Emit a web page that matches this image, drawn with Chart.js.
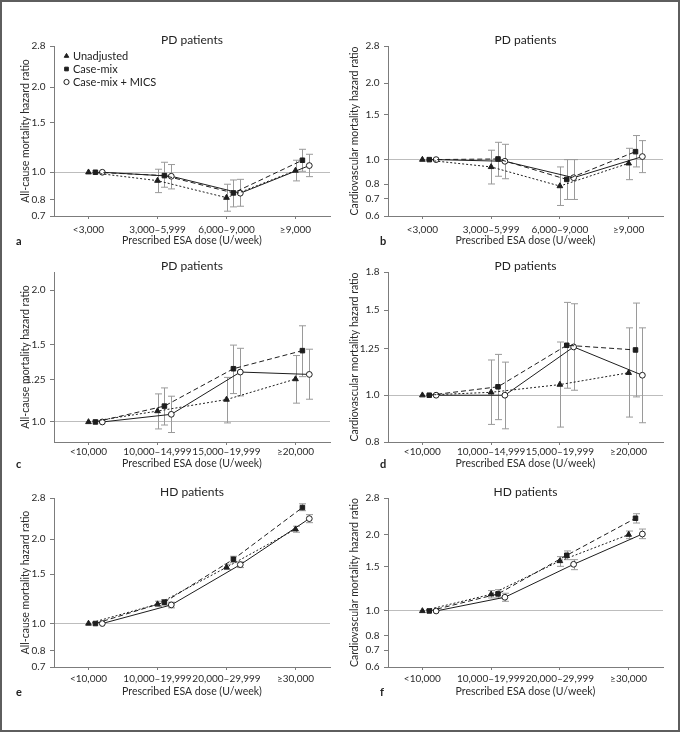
<!DOCTYPE html>
<html>
<head>
<meta charset="utf-8">
<script src="https://cdn.jsdelivr.net/npm/chart.js@4.4.0/dist/chart.umd.min.js"></script>
<style>
  html, body { margin: 0; padding: 0; background: #fff; }
  body { position: relative; width: 680px; height: 732px; overflow: hidden; }
  #frame { position: absolute; left: 0; top: 0; width: 680px; height: 732px; box-sizing: border-box; border: 2px solid #5e5e5e; }
  canvas { position: absolute; }
  .letter { position: absolute; font: bold 11px Lato, sans-serif; color: #222; line-height: 14px; }
</style>
</head>
<body>
<div id="frame"></div>
<script>
// categories
const catsPD1 = ['<3,000', '3,000–5,999', '6,000–9,000', '≥9,000'];
const catsPD2 = ['<10,000', '10,000–14,999', '15,000–19,999', '≥20,000'];
const catsHD = ['<10,000', '10,000–19,999', '20,000–29,999', '≥30,000'];
const seriesNames = ['Unadjusted', 'Case-mix', 'Case-mix + MICS'];

// y tick values
const ticksA = [0.7, 0.8, 1.0, 1.5, 2.0, 2.8];
const ticksB = [0.6, 0.7, 0.8, 1.0, 1.5, 2.0, 2.8];
const ticksC = [1.0, 1.25, 1.5, 2.0];
const ticksD = [0.8, 1.0, 1.25, 1.5, 1.8];

// a: all-cause, PD
const aUnadj = [1, 0.934, 0.813, 1.014], aUnadjLo = [null, 0.847, 0.728, 0.932], aUnadjHi = [null, 1.025, 0.907, 1.103];
const aCase = [1, 0.973, 0.845, 1.103], aCaseLo = [null, 0.885, 0.754, 1.008], aCaseHi = [null, 1.085, 0.939, 1.206];
const aMics = [1, 0.968, 0.843, 1.056], aMicsLo = [null, 0.873, 0.758, 0.965], aMicsHi = [null, 1.065, 0.944, 1.158];
// b: cardiovascular, PD
const bUnadj = [1, 0.936, 0.787, 0.967], bUnadjLo = [null, 0.802, 0.660, 0.834], bUnadjHi = [null, 1.089, 0.936, 1.108];
const bCase = [1, 1.006, 0.836, 1.075], bCaseLo = [null, 0.860, 0.697, 0.936], bCaseHi = [null, 1.170, 1.0, 1.244];
const bMics = [1, 0.985, 0.849, 1.028], bMicsLo = [null, 0.841, 0.697, 0.889], bMicsHi = [null, 1.149, 1.0, 1.188];
// c: all-cause, PD (higher doses)
const cUnadj = [1, 1.059, 1.125, 1.253], cUnadjLo = [null, 0.964, 0.995, 1.104], cUnadjHi = [null, 1.159, 1.264, 1.418];
const cCase = [1, 1.087, 1.323, 1.455], cCaseLo = [null, 0.984, 1.161, 1.269], cCaseHi = [null, 1.196, 1.498, 1.658];
const cMics = [1, 1.041, 1.300, 1.284], cMicsLo = [null, 0.946, 1.147, 1.127], cMicsHi = [null, 1.145, 1.473, 1.466];
// d: cardiovascular, PD (higher doses)
const dUnadj = [1, 1.014, 1.052, 1.113], dUnadjLo = [null, 0.870, 0.859, 0.901], dUnadjHi = [null, 1.183, 1.289, 1.379];
const dCase = [1, 1.041, 1.269, 1.241], dCaseLo = [null, 0.890, 1.034, 0.992], dCaseHi = [null, 1.215, 1.557, 1.552];
const dMics = [1, 1.0, 1.259, 1.100], dMicsLo = [null, 0.852, 1.024, 0.877], dMicsHi = [null, 1.171, 1.547, 1.379];
// e: all-cause, HD
const eUnadj = [1, 1.172, 1.586, 2.167], eUnadjLo = [null, 1.149, 1.557, 2.114], eUnadjHi = [null, 1.201, 1.626, 2.222];
const eCase = [1, 1.191, 1.694, 2.589], eCaseLo = [null, 1.162, 1.648, 2.523], eCaseHi = [null, 1.217, 1.736, 2.670];
const eMics = [1, 1.165, 1.621, 2.364], eMicsLo = [null, 1.137, 1.582, 2.287], eMicsHi = [null, 1.191, 1.658, 2.443];
// f: cardiovascular, HD
const fUnadj = [1, 1.164, 1.577, 2.005], fUnadjLo = [null, 1.126, 1.502, 1.933], fUnadjHi = [null, 1.204, 1.641, 2.072];
const fCase = [1, 1.168, 1.661, 2.328], fCaseLo = [null, 1.126, 1.596, 2.229], fCaseHi = [null, 1.214, 1.728, 2.426];
const fMics = [1, 1.133, 1.530, 2.016], fMicsLo = [null, 1.092, 1.457, 1.933], fMicsHi = [null, 1.175, 1.596, 2.110];

const ALL = 'All-cause mortality hazard ratio';
const CV = 'Cardiovascular mortality hazard ratio';

const panels = [
  { letter: 'a', row: 0, col: 0, title: 'PD patients', yTitle: ALL, cats: catsPD1, ticks: ticksA, min: 0.7, max: 2.8, legend: true,
    series: [[aUnadj, aUnadjLo, aUnadjHi], [aCase, aCaseLo, aCaseHi], [aMics, aMicsLo, aMicsHi]] },
  { letter: 'b', row: 0, col: 1, title: 'PD patients', yTitle: CV, cats: catsPD1, ticks: ticksB, min: 0.6, max: 2.8,
    series: [[bUnadj, bUnadjLo, bUnadjHi], [bCase, bCaseLo, bCaseHi], [bMics, bMicsLo, bMicsHi]] },
  { letter: 'c', row: 1, col: 0, title: 'PD patients', yTitle: ALL, cats: catsPD2, ticks: ticksC, min: 0.9, max: 2.2,
    series: [[cUnadj, cUnadjLo, cUnadjHi], [cCase, cCaseLo, cCaseHi], [cMics, cMicsLo, cMicsHi]] },
  { letter: 'd', row: 1, col: 1, title: 'PD patients', yTitle: 'Cardiovasclular mortality hazard ratio'.replace('clul', 'cul'), cats: catsPD2, ticks: ticksD, min: 0.8, max: 1.8,
    series: [[dUnadj, dUnadjLo, dUnadjHi], [dCase, dCaseLo, dCaseHi], [dMics, dMicsLo, dMicsHi]] },
  { letter: 'e', row: 2, col: 0, title: 'HD patients', yTitle: ALL, cats: catsHD, ticks: ticksA, min: 0.7, max: 2.8,
    series: [[eUnadj, eUnadjLo, eUnadjHi], [eCase, eCaseLo, eCaseHi], [eMics, eMicsLo, eMicsHi]] },
  { letter: 'f', row: 2, col: 1, title: 'HD patients', yTitle: CV, cats: catsHD, ticks: ticksB, min: 0.6, max: 2.8,
    series: [[fUnadj, fUnadjLo, fUnadjHi], [fCase, fCaseLo, fCaseHi], [fMics, fMicsLo, fMicsHi]] }
];

// layout of the grid of panels
const rows = [
  { top: 28, height: 219, xAxisH: 31, tickPad: 4.3 },
  { top: 254, height: 216, xAxisH: 28, tickPad: 1 },
  { top: 480, height: 218, xAxisH: 31, tickPad: 3 }
];
const cols = [
  { left: 0, yAxisW: 54, yTitlePad: 19.7, padRight: 10, letterX: 16 },
  { left: 340, yAxisW: 48, yTitlePad: 8.7, padRight: 17, letterX: 380 }
];

const ink = '#1e1e1e';
const axisColor = '#7c7c7c';
const refColor = '#bdbdbd';
const errColor = '#9a9a9a';
const xShift = [0, 0.1, 0.2];
const styles = [
  { pointStyle: 'triangle', radius: 3.3, fill: ink, dash: [2, 2] },
  { pointStyle: 'rect', radius: 3.2, fill: ink, dash: [5, 3] },
  { pointStyle: 'circle', radius: 2.9, fill: '#fff', dash: [] }
];

Chart.defaults.font.family = 'Lato, sans-serif';
Chart.defaults.color = '#2a2a2a';

// vertical confidence-interval whiskers, placed through the chart scales
const errorBars = {
  id: 'errorBars',
  beforeDatasetsDraw(chart) {
    const { ctx, scales: { x, y } } = chart;
    ctx.save();
    ctx.strokeStyle = errColor;
    ctx.lineWidth = 1;
    chart.data.datasets.forEach(ds => {
      ds.data.forEach((p, i) => {
        if (ds.lo[i] == null) return;
        const px = Math.round(x.getPixelForValue(p.x)) + 0.5;
        const y1 = y.getPixelForValue(ds.lo[i]);
        const y2 = y.getPixelForValue(ds.hi[i]);
        ctx.beginPath();
        ctx.moveTo(px, y1); ctx.lineTo(px, y2);
        ctx.moveTo(px - 3.5, y1); ctx.lineTo(px + 3.5, y1);
        ctx.moveTo(px - 3.5, y2); ctx.lineTo(px + 3.5, y2);
        ctx.stroke();
      });
    });
    ctx.restore();
  }
};

// small legend inside the plot area, top-left (only panel a)
const insideLegend = {
  id: 'insideLegend',
  afterDatasetsDraw(chart, args, opts) {
    if (!opts.show) return;
    const { ctx, chartArea } = chart;
    ctx.save();
    ctx.font = '11px Lato, sans-serif';
    ctx.textBaseline = 'middle';
    chart.data.datasets.forEach((ds, k) => {
      const y = chartArea.top + 10 + k * 13;
      const x = chartArea.left + 12.5;
      ctx.fillStyle = ds.pointBackgroundColor;
      ctx.strokeStyle = ds.pointBorderColor;
      ctx.lineWidth = 1;
      ctx.setLineDash([]);
      Chart.helpers.drawPoint(ctx, { pointStyle: ds.pointStyle, radius: 2.6, rotation: 0, borderWidth: 1 }, x, y);
      ctx.fillStyle = '#222';
      ctx.fillText(ds.label, x + 6.5, y);
    });
    ctx.restore();
  }
};

const fmt = v => (Math.round(v * 10) === v * 10 ? v.toFixed(1) : String(v));

panels.forEach(p => {
  const r = rows[p.row], c = cols[p.col];
  const canvas = document.createElement('canvas');
  canvas.width = 340;
  canvas.height = r.height;
  canvas.style.left = c.left + 'px';
  canvas.style.top = r.top + 'px';
  document.body.appendChild(canvas);

  const letter = document.createElement('span');
  letter.className = 'letter';
  letter.textContent = p.letter;
  letter.style.left = c.letterX + 'px';
  letter.style.top = (r.top + r.height - 6.3 - 7) + 'px';
  document.body.appendChild(letter);

  const datasets = p.series.map((s, k) => ({
    label: seriesNames[k],
    data: s[0].map((v, i) => ({ x: i + xShift[k], y: v })),
    lo: s[1],
    hi: s[2],
    borderColor: ink,
    backgroundColor: styles[k].fill,
    borderWidth: 1,
    borderDash: styles[k].dash,
    pointStyle: styles[k].pointStyle,
    pointRadius: styles[k].radius,
    pointBackgroundColor: styles[k].fill,
    pointBorderColor: ink,
    pointBorderWidth: 1,
    tension: 0
  }));

  new Chart(canvas, {
    type: 'line',
    data: { datasets },
    plugins: [errorBars, insideLegend],
    options: {
      responsive: false,
      animation: false,
      layout: { padding: { left: 0, right: c.padRight, top: 0, bottom: 0 } },
      plugins: {
        tooltip: { enabled: false },
        legend: { display: false },
        insideLegend: { show: !!p.legend },
        title: {
          display: true,
          text: p.title,
          fullSize: false,
          color: '#222',
          font: { size: 12, lineHeight: 0.8, weight: 'normal' },
          padding: { top: 7.5, bottom: 0.9 }
        }
      },
      scales: {
        x: {
          type: 'linear',
          min: -0.5,
          max: 3.5,
          afterBuildTicks: s => { s.ticks = p.cats.map((_, i) => ({ value: i })); },
          afterFit: s => { s.height = r.xAxisH; },
          ticks: {
            callback: v => p.cats[v],
            autoSkip: false,
            maxRotation: 0,
            minRotation: 0,
            padding: r.tickPad,
            font: { size: 10 },
            color: '#2a2a2a'
          },
          grid: { drawOnChartArea: false, drawTicks: true, tickLength: 3, tickColor: axisColor },
          border: { display: true, color: axisColor, width: 1 },
          title: {
            display: true,
            text: 'Prescribed ESA dose (U/week)',
            font: { size: 10.5 },
            padding: 0,
            color: '#2a2a2a'
          }
        },
        y: {
          type: 'logarithmic',
          min: p.min,
          max: p.max,
          afterBuildTicks: s => { s.ticks = p.ticks.map(v => ({ value: v })); },
          afterFit: s => { s.width = c.yAxisW; },
          ticks: {
            callback: v => fmt(v),
            autoSkip: false,
            padding: 4.5,
            font: { size: 10 },
            color: '#2a2a2a'
          },
          grid: {
            drawOnChartArea: true,
            drawTicks: true,
            tickLength: 4,
            tickColor: axisColor,
            color: ctx => (ctx.tick && ctx.tick.value === 1 ? refColor : 'rgba(0,0,0,0)')
          },
          border: { display: true, color: axisColor, width: 1 },
          title: {
            display: true,
            text: p.yTitle,
            font: { size: 10.5 },
            padding: { top: c.yTitlePad, bottom: 0 },
            color: '#2a2a2a'
          }
        }
      }
    }
  });
});
</script>
</body>
</html>
